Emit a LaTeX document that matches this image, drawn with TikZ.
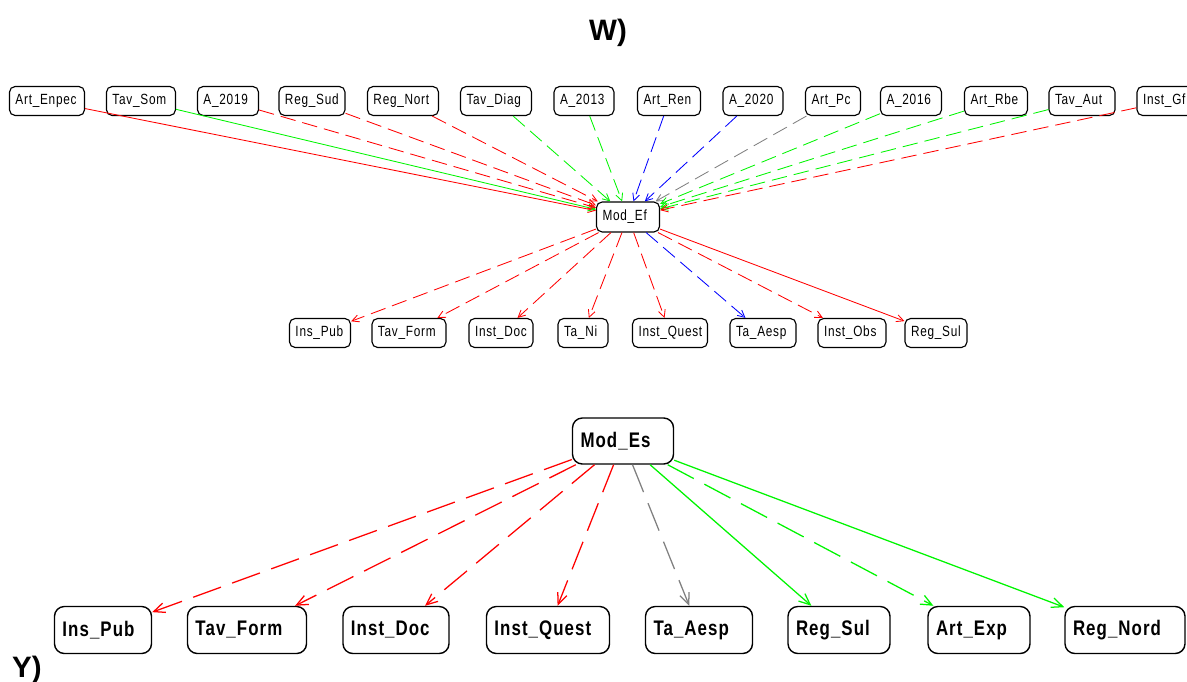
\documentclass[tikz,border=0pt]{standalone}
\usepackage{fontspec}
\setmainfont{Liberation Sans}
\newfontfamily\boxfont{Liberation Sans}[FakeStretch=0.8,LetterSpace=5]
\usetikzlibrary{arrows.meta}
\definecolor{ered}{RGB}{255,0,0}
\definecolor{egreen}{RGB}{0,245,0}
\definecolor{eblue}{RGB}{0,0,255}
\definecolor{egray}{RGB}{128,128,128}

\begin{document}
\begin{tikzpicture}[x=0.025cm, y=-0.025cm,
   sm/.style={draw, rounded corners=4pt, line width=0.8pt, inner xsep=0.15cm, inner ysep=0pt,
     minimum height=0.725cm, text width=#1, align=left, font=\boxfont\fontsize{10.5}{12}\selectfont},
   bg/.style={draw, rounded corners=7pt, line width=1pt, inner xsep=0.2cm, inner ysep=0pt,
     minimum height=1.175cm, text width=#1, align=left, font=\boxfont\bfseries\fontsize{15}{18}\selectfont},
   wl/.style={line width=0.6pt, -{Straight Barb[length=5pt,width=5pt]}},
   yl/.style={line width=0.9pt, -{Straight Barb[length=8pt,width=7pt]}},
   wd/.style={dash pattern=on 11pt off 5pt},
   yd/.style={dash pattern=on 21pt off 8.5pt}]
  \useasboundingbox (0,0) rectangle (1187,682);
  % W) top row
  \node[font=\bfseries\fontsize{21}{24}\selectfont] (tw) at (608,33) {W)};
  \node[sm=1.575cm] (artenpec) at (47,101) {Art\_Enpec};
  \node[sm=1.425cm] (tavsom) at (141,101) {Tav\_Som};
  \node[sm=1.225cm] (a2019) at (228,101) {A\_2019};
  \node[sm=1.35cm] (regsud) at (312,101) {Reg\_Sud};
  \node[sm=1.475cm] (regnort) at (403,101) {Reg\_Nort};
  \node[sm=1.475cm] (tavdiag) at (496,101) {Tav\_Diag};
  \node[sm=1.2cm] (a2013) at (584,101) {A\_2013};
  \node[sm=1.275cm] (artren) at (669,101) {Art\_Ren};
  \node[sm=1.2cm] (a2020) at (753,101) {A\_2020};
  \node[sm=1.075cm] (artpc) at (833,101) {Art\_Pc};
  \node[sm=1.225cm] (a2016) at (911,101) {A\_2016};
  \node[sm=1.275cm] (artrbe) at (996,101) {Art\_Rbe};
  \node[sm=1.35cm] (tavaut) at (1082,101) {Tav\_Aut};
  \node[sm=1.25cm] (instgf) at (1168,101) {Inst\_Gf};
  \node[sm=1.275cm, minimum height=0.75cm] (modef) at (628,217) {Mod\_Ef};
  % W) bottom row
  \node[sm=1.225cm] (wpub) at (320,333) {Ins\_Pub};
  \node[sm=1.55cm] (wform) at (409,333) {Tav\_Form};
  \node[sm=1.3cm] (wdoc) at (501,333) {Inst\_Doc};
  \node[sm=0.95cm] (wni) at (583,333) {Ta\_Ni};
  \node[sm=1.575cm] (wquest) at (670,333) {Inst\_Quest};
  \node[sm=1.35cm] (waesp) at (763,333) {Ta\_Aesp};
  \node[sm=1.4cm] (wobs) at (852,333) {Inst\_Obs};
  \node[sm=1.25cm] (wsul) at (936,333) {Reg\_Sul};
  % W) edges in
  \draw[wl, ered] (artenpec) -- (modef);
  \draw[wl, egreen] (tavsom) -- (modef);
  \draw[wl, wd, ered] (a2019) -- (modef);
  \draw[wl, wd, ered] (regsud) -- (modef);
  \draw[wl, wd, ered] (regnort) -- (modef);
  \draw[wl, wd, egreen] (tavdiag) -- (modef);
  \draw[wl, wd, egreen] (a2013) -- (modef);
  \draw[wl, wd, eblue] (artren) -- (modef);
  \draw[wl, wd, eblue] (a2020) -- (modef);
  \draw[wl, wd, egray] (artpc) -- (modef);
  \draw[wl, wd, egreen] (a2016) -- (modef);
  \draw[wl, wd, egreen] (artrbe) -- (modef);
  \draw[wl, wd, egreen] (tavaut) -- (modef);
  \draw[wl, wd, ered] (instgf) -- (modef);
  % W) edges out
  \draw[wl, wd, ered] (modef) -- (wpub);
  \draw[wl, wd, ered] (modef) -- (wform);
  \draw[wl, wd, ered] (modef) -- (wdoc);
  \draw[wl, wd, ered] (modef) -- (wni);
  \draw[wl, wd, ered] (modef) -- (wquest);
  \draw[wl, wd, eblue] (modef) -- (waesp);
  \draw[wl, wd, ered] (modef) -- (wobs);
  \draw[wl, ered] (modef) -- (wsul);
  % Y)
  \node[font=\bfseries\fontsize{21}{24}\selectfont] (ty) at (27,670) {Y)};
  \node[bg=2.125cm, minimum height=1.15cm] (modes) at (623,441) {Mod\_Es};
  \node[bg=2.025cm] (ypub) at (103,630) {Ins\_Pub};
  \node[bg=2.575cm] (yform) at (247,630) {Tav\_Form};
  \node[bg=2.25cm] (ydoc) at (396,630) {Inst\_Doc};
  \node[bg=2.675cm] (yquest) at (548,630) {Inst\_Quest};
  \node[bg=2.275cm] (yaesp) at (699,630) {Ta\_Aesp};
  \node[bg=2.15cm] (ysul) at (839,630) {Reg\_Sul};
  \node[bg=2.15cm] (yexp) at (979,630) {Art\_Exp};
  \node[bg=2.6cm] (ynord) at (1125,630) {Reg\_Nord};
  \draw[yl, yd, ered] (modes) -- (ypub);
  \draw[yl, yd, ered] (modes) -- (yform);
  \draw[yl, yd, ered] (modes) -- (ydoc);
  \draw[yl, yd, ered] (modes) -- (yquest);
  \draw[yl, yd, egray] (modes) -- (yaesp);
  \draw[yl, egreen] (modes) -- (ysul);
  \draw[yl, yd, egreen] (modes) -- (yexp);
  \draw[yl, egreen] (modes) -- (ynord);
\end{tikzpicture}
\end{document}
